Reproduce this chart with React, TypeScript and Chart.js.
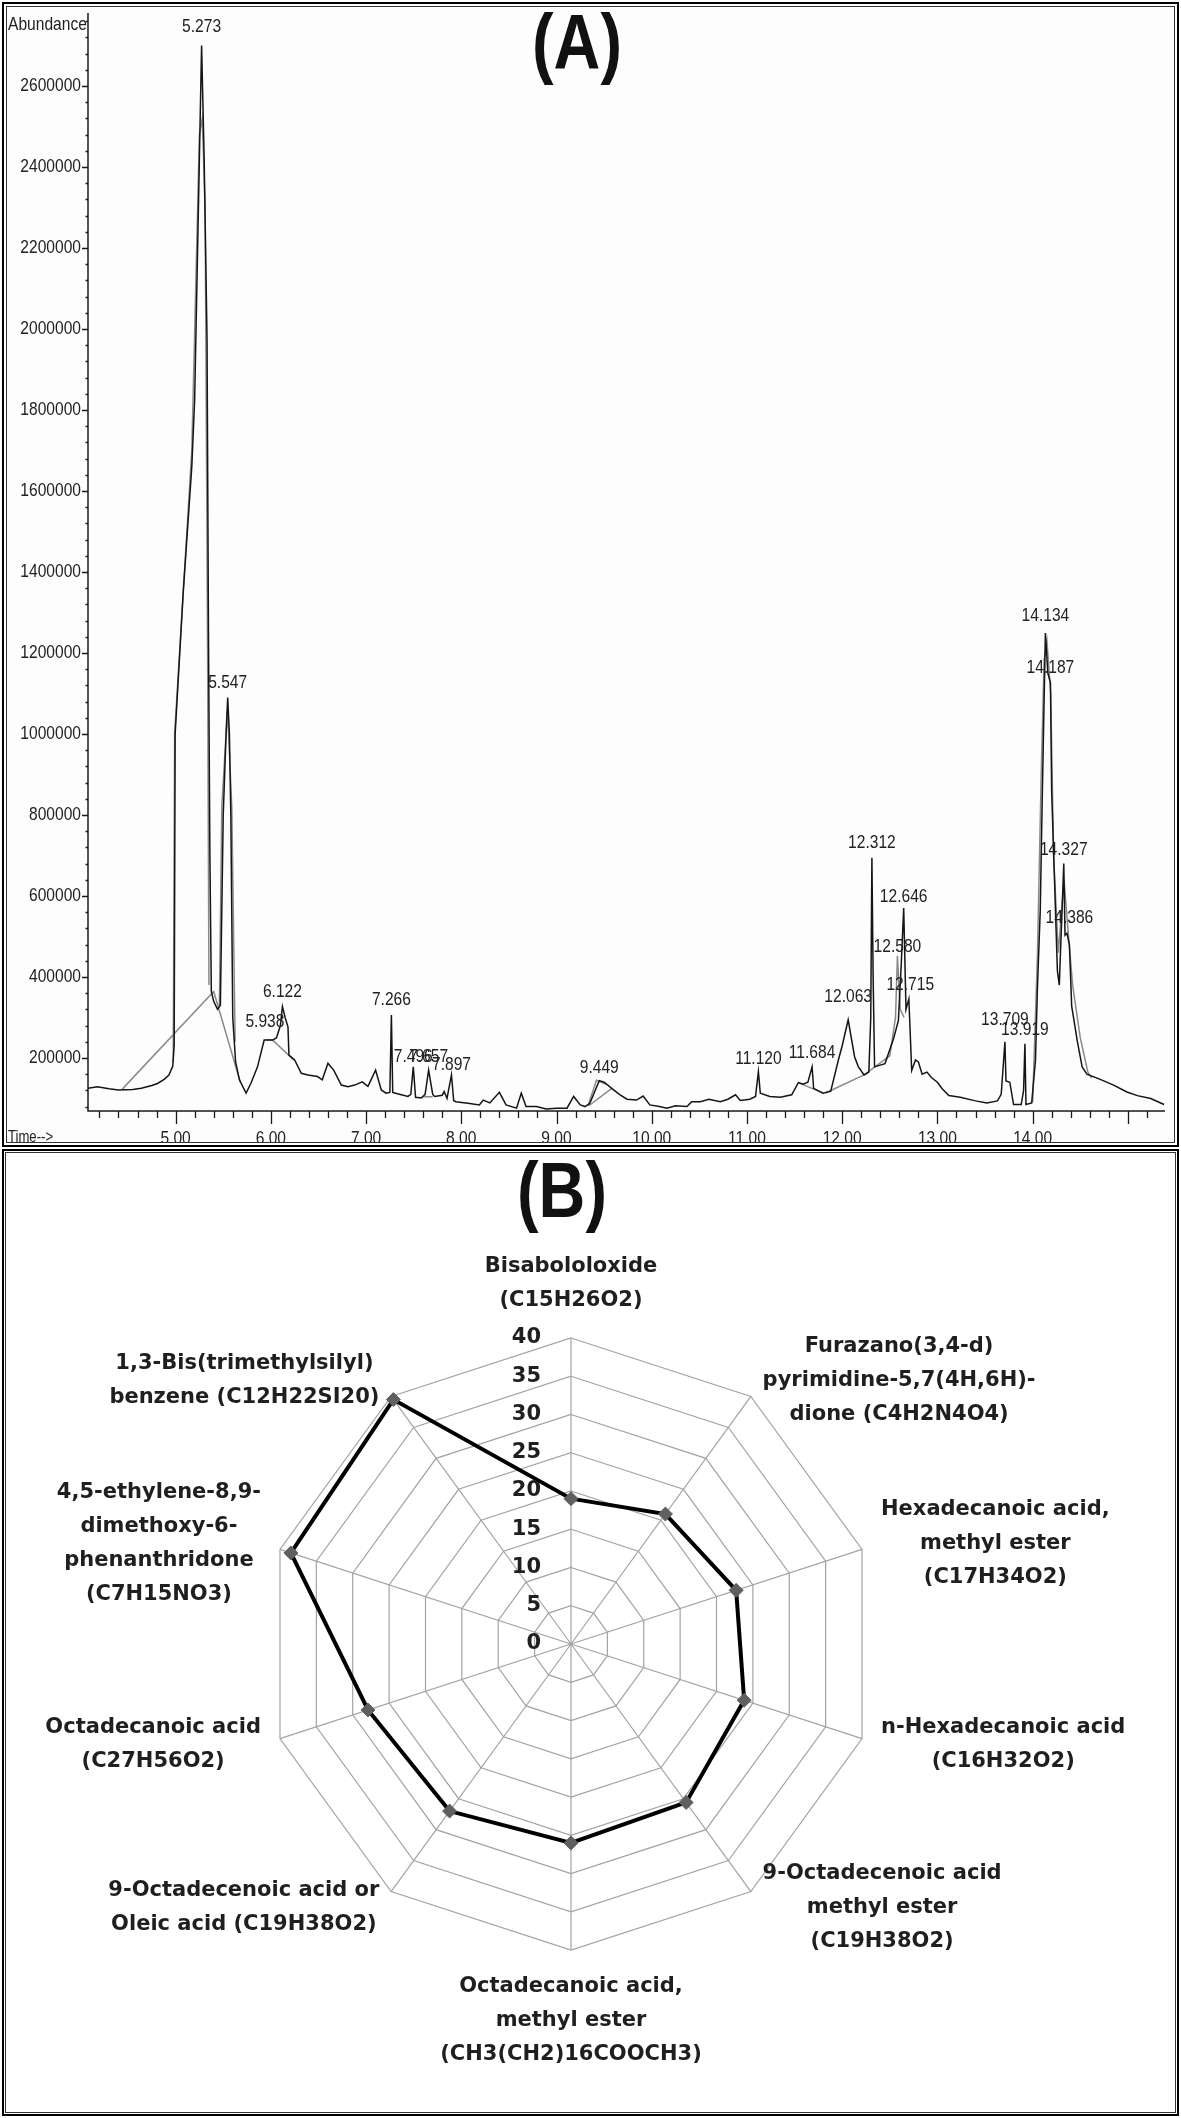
import React, { useEffect, useRef } from 'react';
import { Chart, registerables } from 'chart.js';

Chart.register(...registerables);

// ---------- Panel A : chromatogram (retention time in min, abundance) ----------
const ticTrace: [number, number][] = [
  [4.08, 125000], [4.18, 129000], [4.30, 124000], [4.40, 121000], [4.55, 122000],
  [4.64, 125000], [4.75, 132000], [4.81, 137000], [4.88, 147000], [4.93, 158000],
  [4.97, 180000], [4.985, 230000], [4.995, 1000000], [5.08, 1350000], [5.17, 1660000],
  [5.20, 1825000], [5.257, 2508000], [5.273, 2700000], [5.30, 2417000], [5.33, 1973000],
  [5.345, 1250000], [5.36, 700000], [5.375, 364000], [5.40, 340000], [5.44, 320000],
  [5.47, 330000], [5.50, 800000], [5.53, 1000000], [5.547, 1090000], [5.565, 1000000],
  [5.58, 800000], [5.60, 300000], [5.63, 190000], [5.67, 146000], [5.74, 113000],
  [5.79, 137000], [5.86, 178000], [5.93, 244000], [6.02, 244000], [6.06, 250000],
  [6.10, 280000], [6.122, 327000], [6.15, 300000], [6.18, 277000], [6.19, 207000],
  [6.25, 195000], [6.32, 162000], [6.39, 158000], [6.49, 154000], [6.54, 146000],
  [6.60, 187000], [6.66, 170000], [6.74, 133000], [6.81, 129000], [6.88, 133000],
  [6.96, 141000], [7.02, 130000], [7.10, 170000], [7.16, 121000], [7.21, 113000],
  [7.25, 115000], [7.266, 306000], [7.28, 115000], [7.31, 113000], [7.44, 105000],
  [7.47, 110000], [7.496, 178000], [7.52, 103000], [7.58, 101000], [7.62, 110000],
  [7.657, 170000], [7.70, 110000], [7.72, 105000], [7.80, 108000], [7.82, 117000],
  [7.85, 100000], [7.897, 158000], [7.92, 95000], [7.94, 92000], [8.07, 88000],
  [8.19, 84000], [8.23, 96000], [8.30, 89000], [8.40, 115000], [8.47, 84000],
  [8.58, 76000], [8.63, 113000], [8.68, 80000], [8.79, 80000], [8.89, 74000],
  [9.00, 76000], [9.11, 76000], [9.18, 105000], [9.25, 84000], [9.30, 80000],
  [9.35, 88000], [9.449, 144000], [9.50, 140000], [9.58, 125000], [9.66, 110000],
  [9.74, 98000], [9.84, 96000], [9.91, 106000], [9.98, 84000], [10.08, 80000],
  [10.16, 76000], [10.25, 82000], [10.37, 80000], [10.42, 92000], [10.51, 92000],
  [10.60, 98000], [10.72, 92000], [10.80, 98000], [10.88, 109000], [10.93, 95000],
  [11.03, 98000], [11.09, 105000], [11.12, 166000], [11.14, 113000], [11.24, 105000],
  [11.35, 103000], [11.47, 109000], [11.54, 139000], [11.59, 135000], [11.64, 140000],
  [11.684, 178000], [11.70, 125000], [11.80, 113000], [11.88, 118000], [11.96, 195000],
  [12.00, 230000], [12.063, 294000], [12.13, 203000], [12.17, 178000], [12.23, 158000],
  [12.28, 165000], [12.30, 300000], [12.312, 694000], [12.325, 400000], [12.34, 178000],
  [12.45, 186000], [12.54, 248000], [12.59, 292000], [12.62, 430000], [12.646, 570000],
  [12.67, 320000], [12.70, 346000], [12.73, 169000], [12.77, 195000], [12.80, 190000],
  [12.84, 160000], [12.89, 165000], [12.94, 151000], [13.00, 140000], [13.05, 124000],
  [13.12, 107000], [13.24, 103000], [13.40, 94000], [13.52, 89000], [13.63, 94000],
  [13.67, 110000], [13.709, 240000], [13.72, 143000], [13.76, 140000], [13.80, 85000],
  [13.88, 85000], [13.905, 120000], [13.919, 235000], [13.93, 85000], [13.99, 89000],
  [14.03, 195000], [14.05, 371000], [14.08, 565000], [14.10, 830000], [14.134, 1249000],
  [14.16, 1150000], [14.187, 1126000], [14.20, 857000], [14.23, 637000], [14.26, 415000],
  [14.28, 380000], [14.327, 680000], [14.34, 503000], [14.36, 508000], [14.386, 480000],
  [14.41, 328000], [14.47, 240000], [14.52, 178000], [14.57, 160000], [14.71, 147000],
  [14.85, 133000], [14.99, 116000], [15.10, 107000], [15.24, 100000], [15.38, 85000],
];

// grey overlay: integration baselines and peak envelopes (null = break)
const overlayTrace: [number, number | null][] = [
  [4.44, 123000], [5.40, 364000], [5.68, 140000], [5.69, null],
  [4.975, 190000], [4.99, 1000000], [5.17, 1700000], [5.25, 2480000], [5.28, 2520000],
  [5.31, 2300000], [5.335, 1250000], [5.35, 380000], [5.355, null],
  [5.46, 330000], [5.485, 820000], [5.545, 1060000], [5.59, 820000], [5.625, 240000], [5.63, null],
  [5.95, 244000], [6.02, 244000], [6.24, 195000], [6.245, null],
  [7.60, 104000], [7.70, 104000], [7.705, null],
  [9.33, 82000], [9.42, 145000], [9.52, 135000], [9.525, null],
  [9.34, 82000], [9.58, 125000], [9.585, null],
  [11.54, 139000], [11.80, 113000], [11.805, null],
  [11.83, 114000], [12.23, 158000], [12.50, 205000], [12.56, 300000], [12.58, 452000],
  [12.61, 320000], [12.65, 300000], [12.655, null],
  [14.00, 90000], [14.05, 450000], [14.09, 900000], [14.12, 1180000], [14.15, 1230000],
  [14.19, 1100000], [14.22, 700000], [14.27, 460000], [14.33, 640000], [14.37, 520000],
  [14.42, 380000], [14.50, 250000], [14.58, 165000], [14.62, 150000],
];

const peakLabelText = [
  '5.273', '5.547', '5.938', '6.122', '7.266', '7.496', '7.657', '7.897', '9.449', '11.120', '11.684',
  '12.063', '12.312', '12.580', '12.646', '12.715', '13.709', '13.919', '14.134', '14.187', '14.327', '14.386',
];
const peakLabelAbundance = [
  2745000, 1126000, 290000, 364000, 343000, 203000, 203000, 183000, 175000, 199000, 212000,
  351000, 731000, 474000, 597000, 380000, 294000, 269000, 1291000, 1163000, 713000, 546000,
];

const yTickValues = [200000, 400000, 600000, 800000, 1000000, 1200000, 1400000, 1600000, 1800000, 2000000, 2200000, 2400000, 2600000];
const xTickValues = [5, 6, 7, 8, 9, 10, 11, 12, 13, 14];
const xTickText = ['5.00', '6.00', '7.00', '8.00', '9.00', '10.00', '11.00', '12.00', '13.00', '14.00'];

// ---------- Panel B : radar ----------
const radarLabels: string[][] = [
  ['Bisabololoxide', '(C15H26O2)'],
  ['Furazano(3,4-d)', 'pyrimidine-5,7(4H,6H)-', 'dione (C4H2N4O4)'],
  ['Hexadecanoic acid,', 'methyl ester', '(C17H34O2)'],
  ['n-Hexadecanoic acid', '(C16H32O2)'],
  ['9-Octadecenoic acid', 'methyl ester', '(C19H38O2)'],
  ['Octadecanoic acid,', 'methyl ester', '(CH3(CH2)16COOCH3)'],
  ['9-Octadecenoic acid or', 'Oleic acid (C19H38O2)'],
  ['Octadecanoic acid', '(C27H56O2)'],
  ['4,5-ethylene-8,9-', 'dimethoxy-6-', 'phenanthridone', '(C7H15NO3)'],
  ['1,3-Bis(trimethylsilyl)', 'benzene (C12H22SI20)'],
];
const radarValues = [19, 21, 22.7, 23.8, 25.6, 26, 27, 27.9, 38.5, 39.5];
const radarTicks = [0, 5, 10, 15, 20, 25, 30, 35, 40];

const SANS = '"Liberation Sans", Arial, sans-serif';
const BOLDFONT = '"DejaVu Sans", sans-serif';
const SQUEEZE = 0.82;

function narrowText(ctx: CanvasRenderingContext2D, txt: string, x: number, y: number, align: CanvasTextAlign) {
  ctx.save();
  ctx.translate(x, y);
  ctx.scale(SQUEEZE, 1);
  ctx.textAlign = align;
  ctx.fillText(txt, 0, 0);
  ctx.restore();
}

const chromAxesPlugin = {
  id: 'chromAxes',
  afterDatasetsDraw(chart: any) {
    const { ctx, chartArea: a, scales } = chart;
    const x = scales.x;
    const y = scales.y;
    ctx.save();
    ctx.strokeStyle = '#1a1a1a';
    ctx.lineWidth = 1.5;
    ctx.beginPath();
    ctx.moveTo(a.left, a.top);
    ctx.lineTo(a.left, a.bottom);
    ctx.lineTo(a.right, a.bottom);
    ctx.stroke();

    // y ticks (minor every 40000)
    ctx.lineWidth = 1.3;
    ctx.beginPath();
    for (let v = 80000; v <= 2760000; v += 40000) {
      const py = Math.round(y.getPixelForValue(v)) + 0.5;
      const major = v % 200000 === 0;
      ctx.moveTo(a.left - (major ? 6 : 2.5), py);
      ctx.lineTo(a.left, py);
    }
    // x ticks (minor every 0.2 min)
    for (let i = 21; i <= 76; i++) {
      const t = i / 5;
      const px = Math.round(x.getPixelForValue(t)) + 0.5;
      const major = i % 5 === 0;
      ctx.moveTo(px, a.bottom);
      ctx.lineTo(px, a.bottom + (major ? 13 : 7));
    }
    ctx.stroke();

    ctx.fillStyle = '#222';
    ctx.font = `19px ${SANS}`;
    ctx.textBaseline = 'middle';
    yTickValues.forEach((v) => narrowText(ctx, String(v), a.left - 7, y.getPixelForValue(v), 'right'));

    ctx.textBaseline = 'alphabetic';
    xTickValues.forEach((t, i) => narrowText(ctx, xTickText[i], x.getPixelForValue(t), a.bottom + 33, 'center'));

    narrowText(ctx, 'Abundance', 1, 23, 'left');
    ctx.font = `16px ${SANS}`;
    narrowText(ctx, 'Time-->', 1, a.bottom + 31, 'left');

    // peak labels
    ctx.font = `19px ${SANS}`;
    ctx.textBaseline = 'middle';
    peakLabelText.forEach((txt, i) => {
      narrowText(ctx, txt, x.getPixelForValue(parseFloat(txt)), y.getPixelForValue(peakLabelAbundance[i]), 'center');
    });
    ctx.restore();
  },
};

const radarTextPlugin = {
  id: 'radarText',
  afterDraw(chart: any) {
    const r = chart.scales.r;
    const ctx = chart.ctx;
    ctx.save();
    ctx.font = `bold 21px ${BOLDFONT}`;
    ctx.fillStyle = '#1f1f1f';
    ctx.textAlign = 'right';
    ctx.textBaseline = 'middle';
    radarTicks.forEach((v) => {
      const d = r.getDistanceFromCenterForValue(v);
      ctx.fillText(String(v), r.xCenter - 30, r.yCenter - d);
    });
    const lh = 34;
    const n = radarLabels.length;
    radarLabels.forEach((lines, i) => {
      const p = r.getPointPosition(i, r.drawingArea + 20);
      const deg = Math.round((i * 360) / n);
      const bw = Math.max(...lines.map((l) => ctx.measureText(l).width));
      const bh = lines.length * lh;
      let left: number;
      let top: number;
      if (deg === 0) {
        left = p.x - bw / 2;
        top = p.y - bh;
      } else if (deg === 180) {
        left = p.x - bw / 2;
        top = p.y;
      } else if (deg < 180) {
        left = p.x;
        top = p.y - bh / 2;
      } else {
        left = p.x - bw;
        top = p.y - bh / 2;
      }
      ctx.textAlign = 'center';
      ctx.textBaseline = 'middle';
      lines.forEach((l, k) => ctx.fillText(l, left + bw / 2, top + lh * k + lh / 2));
    });
    ctx.restore();
  },
};

export default function App() {
  const refA = useRef<HTMLCanvasElement>(null);
  const refB = useRef<HTMLCanvasElement>(null);

  useEffect(() => {
    const chartA = new Chart(refA.current as HTMLCanvasElement, {
      type: 'line',
      data: {
        datasets: [
          {
            data: ticTrace.map(([t, v]) => ({ x: t, y: v })),
            borderColor: '#151515',
            borderWidth: 1.5,
            pointRadius: 0,
            tension: 0,
          },
          {
            data: overlayTrace.map(([t, v]) => ({ x: t, y: v })),
            borderColor: '#8a8a8a',
            borderWidth: 1.5,
            pointRadius: 0,
            tension: 0,
            spanGaps: false,
          },
        ],
      },
      options: {
        animation: false,
        responsive: false,
        devicePixelRatio: 1,
        layout: { padding: { left: 81, top: 6, right: 7, bottom: 32 } },
        scales: {
          x: { type: 'linear', min: 4.08, max: 15.39, display: false },
          y: { type: 'linear', min: 69000, max: 2780000, display: false },
        },
        plugins: { legend: { display: false }, tooltip: { enabled: false } },
      },
      plugins: [chromAxesPlugin],
    } as any);

    const chartB = new Chart(refB.current as HTMLCanvasElement, {
      type: 'radar',
      data: {
        labels: radarLabels,
        datasets: [
          {
            data: radarValues,
            borderColor: '#000',
            borderWidth: 4,
            fill: false,
            pointStyle: 'rectRot',
            pointRadius: 7,
            pointBackgroundColor: '#5f5f5f',
            pointBorderColor: '#5f5f5f',
            pointBorderWidth: 1,
          },
        ],
      },
      options: {
        animation: false,
        responsive: false,
        devicePixelRatio: 1,
        layout: { padding: { left: 258, right: 295, top: 185, bottom: 161 } },
        scales: {
          r: {
            min: 0,
            max: 40,
            ticks: { stepSize: 5, display: false },
            grid: { color: '#a3a3a3', lineWidth: 1.2 },
            angleLines: { color: '#a3a3a3', lineWidth: 1.2 },
            pointLabels: { display: false },
          },
        },
        plugins: { legend: { display: false }, tooltip: { enabled: false } },
      },
      plugins: [radarTextPlugin],
    } as any);

    return () => {
      chartA.destroy();
      chartB.destroy();
    };
  }, []);

  const abs = (l: number, t: number, w: number, h: number): React.CSSProperties => ({
    position: 'absolute',
    left: l,
    top: t,
    width: w,
    height: h,
    boxSizing: 'border-box',
  });

  const titleStyle = (cx: number, top: number): React.CSSProperties => ({
    position: 'absolute',
    left: cx - 100,
    top,
    width: 200,
    textAlign: 'center',
    font: `bold 78px ${SANS}`,
    lineHeight: '78px',
    color: '#111',
    transform: 'scaleX(0.83)',
  });

  return (
    <div style={{ position: 'absolute', left: 0, top: 0, width: 1181, height: 2118, background: '#fff', overflow: 'hidden' }}>
      <canvas ref={refA} width={1165} height={1136} style={{ ...abs(7, 7, 1165, 1136), background: '#fdfdfd' }} />
      <canvas ref={refB} width={1165} height={958} style={abs(7, 1153, 1165, 958)} />
      <div style={{ ...abs(2, 2, 1177, 1145), border: '2px solid #000' }} />
      <div style={{ ...abs(6, 6, 1169, 1137), border: '1px solid #333' }} />
      <div style={{ ...abs(2, 1149, 1177, 967), border: '2px solid #000' }} />
      <div style={{ ...abs(5, 1152, 1171, 961), border: '1px solid #333' }} />
      <div style={titleStyle(577, 3)}>(A)</div>
      <div style={titleStyle(562, 1151)}>(B)</div>
    </div>
  );
}
